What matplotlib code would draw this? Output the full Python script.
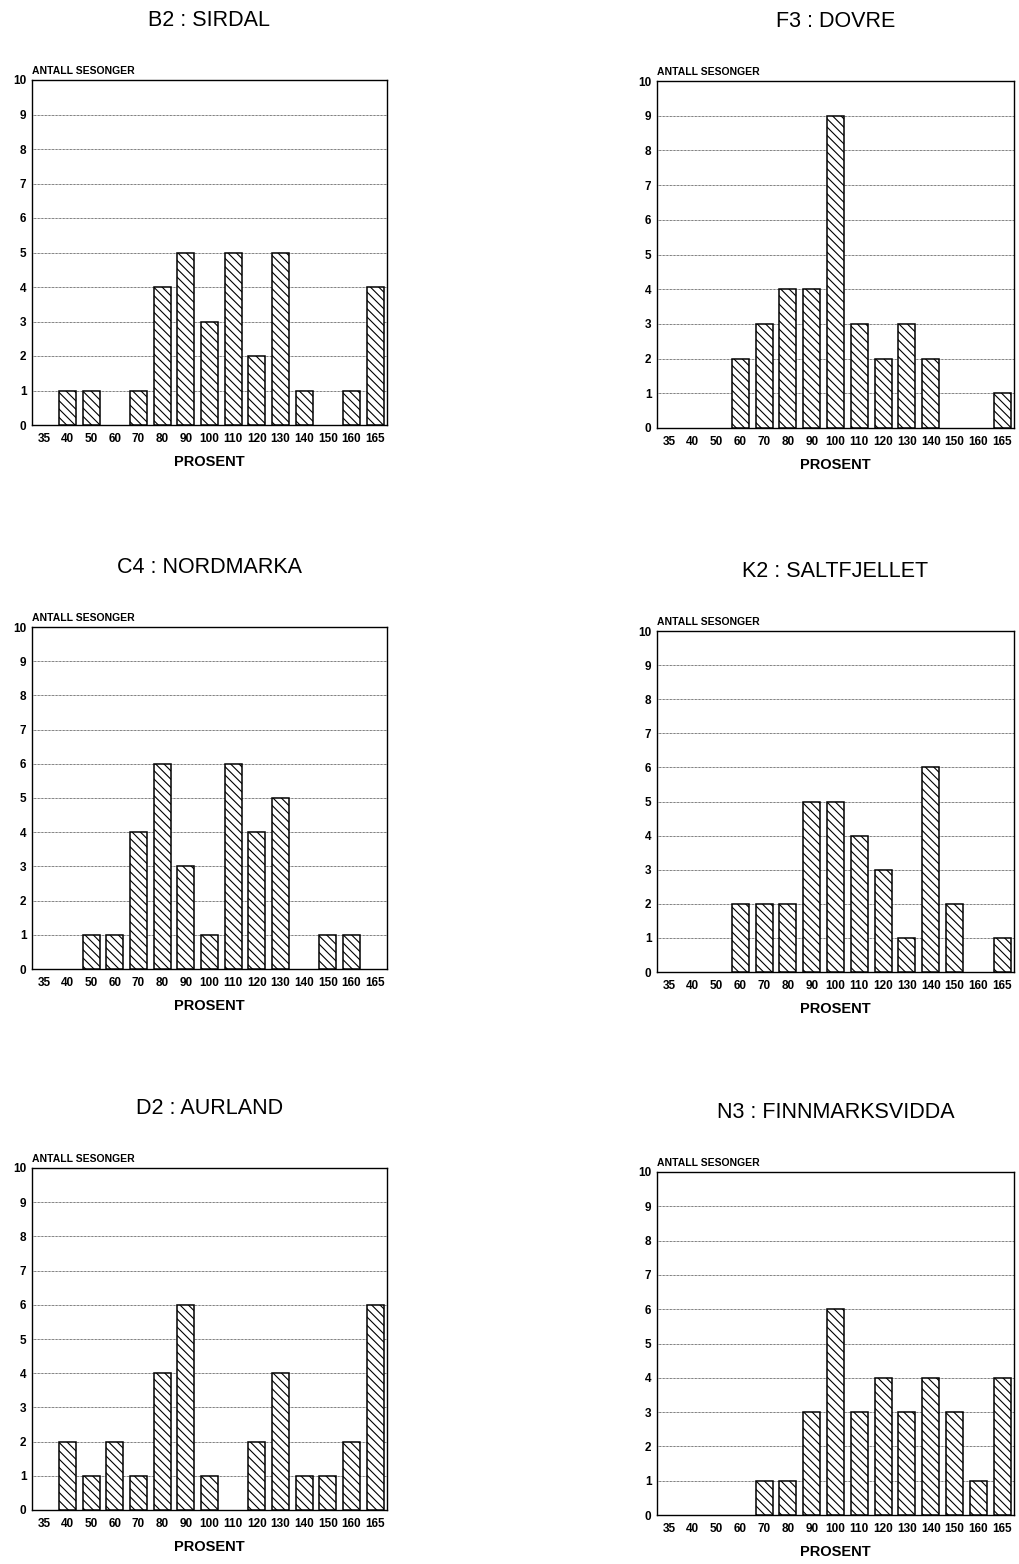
"""Histograms of snow-season percentages for six Norwegian regions (2x3 grid)."""

import matplotlib
matplotlib.use("Agg")
import matplotlib.pyplot as plt

plt.rcParams["font.family"] = ["Liberation Sans", "DejaVu Sans"]
plt.rcParams["hatch.linewidth"] = 0.8

CATEGORIES = ["35", "40", "50", "60", "70", "80", "90", "100", "110", "120",
              "130", "140", "150", "160", "165"]

SIRDAL = [0, 1, 1, 0, 1, 4, 5, 3, 5, 2, 5, 1, 0, 1, 4]
DOVRE = [0, 0, 0, 2, 3, 4, 4, 9, 3, 2, 3, 2, 0, 0, 1]
NORDMARKA = [0, 0, 1, 1, 4, 6, 3, 1, 6, 4, 5, 0, 1, 1, 0]
SALTFJELLET = [0, 0, 0, 2, 2, 2, 5, 5, 4, 3, 1, 6, 2, 0, 1]
AURLAND = [0, 2, 1, 2, 1, 4, 6, 1, 0, 2, 4, 1, 1, 2, 6]
FINNMARKSVIDDA = [0, 0, 0, 0, 1, 1, 3, 6, 3, 4, 3, 4, 3, 1, 4]

PANELS = [
    ("B2 : SIRDAL", SIRDAL),
    ("F3 : DOVRE", DOVRE),
    ("C4 : NORDMARKA", NORDMARKA),
    ("K2 : SALTFJELLET", SALTFJELLET),
    ("D2 : AURLAND", AURLAND),
    ("N3 : FINNMARKSVIDDA", FINNMARKSVIDDA),
]

W, H = 1019, 1564
# axes boxes in pixels: (left, top, right, bottom)
BOXES = [
    (32, 80, 387, 425),
    (657, 81, 1014, 428),
    (32, 627, 387, 969),
    (657, 631, 1014, 972),
    (32, 1168, 387, 1510),
    (657, 1172, 1014, 1515),
]


def draw_panel(fig, box, title, values):
    l, t, r, b = box
    ax = fig.add_axes([l / W, 1 - b / H, (r - l) / W, (b - t) / H])
    x = list(range(len(CATEGORIES)))
    edges = ["black" if v > 0 else "none" for v in values]
    ax.bar(x, values, width=0.72, color="white", edgecolor=edges,
           linewidth=1.1, hatch="\\\\\\\\", zorder=3)
    ax.set_xlim(-0.5, len(CATEGORIES) - 0.5)
    ax.set_ylim(0, 10)
    ax.set_yticks(range(11))
    ax.set_xticks(x)
    ax.set_xticklabels(CATEGORIES)
    ax.tick_params(length=0, labelsize=8.5)
    ax.tick_params(axis="x", pad=6)
    ax.tick_params(axis="y", pad=4)
    for lab in ax.get_xticklabels() + ax.get_yticklabels():
        lab.set_fontweight("bold")
    ax.yaxis.grid(True, linestyle=(0, (1, 1)), linewidth=0.5, color="black")
    for s in ax.spines.values():
        s.set_linewidth(1.0)
    ax.set_xlabel("PROSENT", fontsize=10.5, fontweight="bold", labelpad=7)
    ax.text(0.0, 1.012, "ANTALL SESONGER", transform=ax.transAxes,
            fontsize=7.5, fontweight="bold", ha="left", va="bottom")
    ax.set_title(title, fontsize=15.5, pad=39)
    return ax


def main():
    fig = plt.figure(figsize=(W / 100, H / 100), dpi=100)
    for box, (title, values) in zip(BOXES, PANELS):
        draw_panel(fig, box, title, values)
    fig.savefig("out.png", dpi=100, facecolor="white")
    plt.close(fig)


if __name__ == "__main__":
    main()
